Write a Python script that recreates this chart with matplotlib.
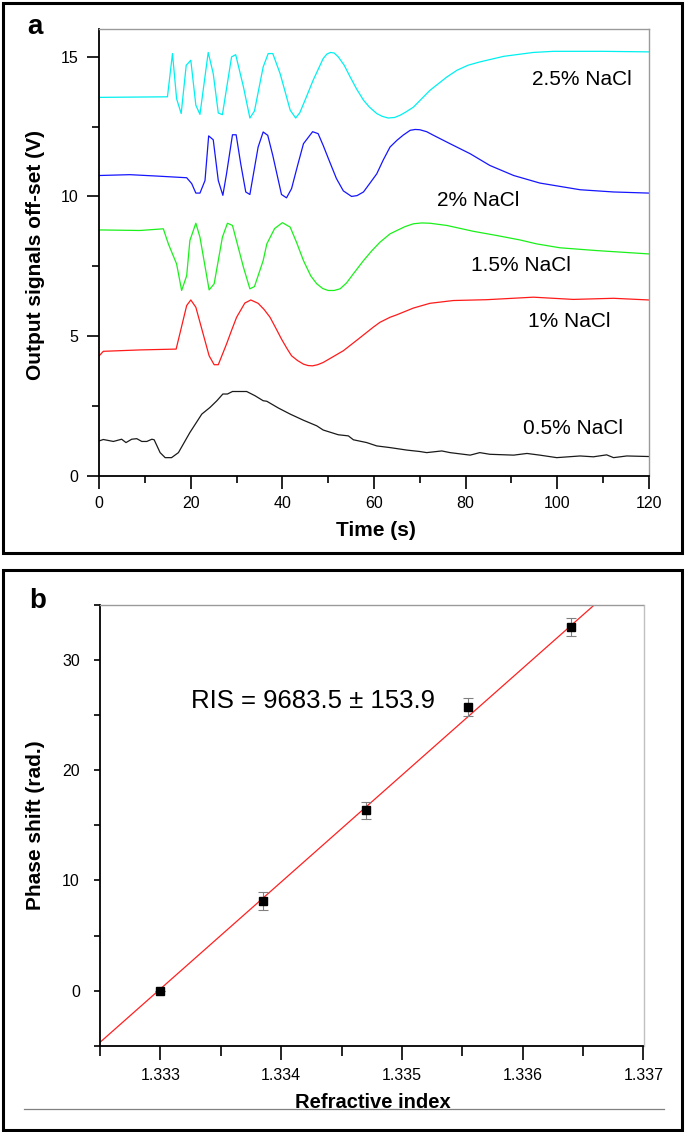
import matplotlib
matplotlib.use("Agg")
import matplotlib.pyplot as plt
import numpy as np
from matplotlib.ticker import MultipleLocator, FixedLocator
from matplotlib.patches import Rectangle
from matplotlib.lines import Line2D

plt.rcParams['font.family'] = ['Liberation Sans', 'DejaVu Sans']

# ---------------- Panel a data ----------------
cyan_t = [0, 14.9, 16.0, 16.9, 17.9, 19.0, 20.0, 21.1, 22.0, 23.8,
          24.9, 26.0, 26.9, 28.9, 29.8, 31.5, 32.9, 33.9, 35.8, 36.9,
          37.9, 39.5, 40.6, 41.7, 42.9, 43.8, 45.2, 46.7, 48.9, 49.7,
          50.5, 51.3, 52.2, 53.5, 54.8, 56.2, 57.7, 59.0, 60.6, 61.8,
          63.1, 64.5, 65.7, 67.0, 68.6, 70.4, 72.2, 75.9, 78.1, 80.5,
          83.1, 88.3, 94.8, 99.2, 110, 120]
cyan_v = [13.55, 13.57, 15.12, 13.5, 12.97, 14.70, 14.88, 13.27, 12.94, 15.16,
          14.40, 12.99, 12.93, 15.0, 15.08, 13.92, 12.81, 13.06, 14.64, 15.12,
          15.12, 14.40, 13.75, 13.09, 12.81, 13.0, 13.55, 14.16, 14.94, 15.1,
          15.16, 15.14, 15.0, 14.7, 14.28, 13.85, 13.45, 13.2, 12.97, 12.87,
          12.81, 12.83, 12.91, 13.03, 13.2, 13.5, 13.80, 14.28, 14.52, 14.70,
          14.82, 15.02, 15.16, 15.2, 15.2, 15.18]

blue_t = [0, 6.7, 12.6, 19.1, 20.2, 21.1, 22.0, 23.1, 23.9, 24.9,
          26.0, 27.0, 27.8, 29.1, 29.9, 30.9, 32.0, 32.9, 34.7, 35.8,
          36.8, 37.9, 39.8, 40.9, 42.0, 43.3, 44.6, 46.6, 47.8, 48.9,
          50.3, 51.8, 53.3, 55.1, 56.3, 57.7, 59.0, 60.6, 62.0, 63.5,
          65.0, 66.4, 67.9, 69.0, 70.0, 71.5, 73.0, 76.6, 81.0, 85.3,
          90.5, 96.2, 105.0, 112.3, 120]
blue_v = [10.75, 10.78, 10.73, 10.67, 10.46, 10.12, 10.12, 10.57, 12.17, 12.03,
          10.57, 10.04, 10.81, 12.21, 12.21, 11.17, 10.16, 10.07, 11.77, 12.31,
          12.19, 11.47, 10.07, 9.95, 10.28, 11.1, 11.89, 12.32, 12.25, 11.83,
          11.25, 10.64, 10.2, 10.0, 10.03, 10.16, 10.45, 10.81, 11.3, 11.77,
          12.01, 12.2, 12.37, 12.4, 12.39, 12.32, 12.19, 11.89, 11.53, 11.11,
          10.75, 10.48, 10.24, 10.16, 10.12]

green_t = [0, 8.9, 14.0, 15.1, 16.9, 18.0, 19.1, 19.8, 21.1, 22.0,
           24.0, 25.1, 26.9, 28.0, 29.1, 31.5, 32.9, 33.9, 35.8, 36.6,
           38.3, 40.0, 41.7, 43.1, 44.6, 46.2, 47.5, 48.8, 50.0, 51.3,
           52.6, 54.0, 55.5, 57.7, 59.5, 61.3, 63.5, 65.0, 66.8, 68.6,
           70.4, 72.2, 75.9, 81.7, 86.8, 91.9, 95.5, 100.6, 108.6, 120]
green_v = [8.80, 8.78, 8.84, 8.30, 7.58, 6.63, 7.16, 8.42, 9.04, 8.54,
           6.65, 6.87, 8.54, 9.04, 8.96, 7.46, 6.69, 6.77, 7.70, 8.30,
           8.85, 9.06, 8.90, 8.35, 7.70, 7.15, 6.87, 6.70, 6.63, 6.63,
           6.69, 6.9, 7.23, 7.70, 8.05, 8.36, 8.66, 8.78, 8.92, 9.02,
           9.05, 9.04, 8.96, 8.75, 8.60, 8.44, 8.30, 8.16, 8.06, 7.94]

red_t = [0, 0.9, 8.9, 16.8, 19.1, 20.0, 21.1, 22.7, 24.0, 25.1,
         26.0, 27.8, 28.9, 30.0, 31.8, 33.1, 34.7, 36.0, 37.3, 38.5,
         39.8, 41.0, 42.0, 43.3, 44.6, 45.6, 46.6, 47.7, 48.9, 51.0,
         53.3, 56.5, 59.8, 61.3, 63.5, 65.0, 68.6, 72.2, 77.3, 84.6,
         94.8, 103.5, 112.3, 120]
red_v = [4.29, 4.45, 4.50, 4.53, 6.09, 6.29, 6.03, 5.07, 4.29, 3.97,
         3.97, 4.71, 5.2, 5.67, 6.18, 6.29, 6.17, 5.95, 5.67, 5.3,
         4.89, 4.55, 4.29, 4.12, 3.99, 3.94, 3.93, 3.97, 4.05, 4.25,
         4.47, 4.88, 5.31, 5.49, 5.67, 5.76, 6.0, 6.17, 6.27, 6.30,
         6.39, 6.31, 6.35, 6.29]

black_t = [0, 0.9, 3.1, 4.9, 5.85, 7.1, 8.2, 9.3, 10.4, 11.5,
           12.0, 13.3, 14.4, 15.8, 17.3, 19.8, 22.4, 24.2, 25.7, 27.0,
           28.0, 29.1, 32.2, 34.0, 35.8, 36.6, 39.1, 41.7, 44.6, 47.5,
           48.9, 52.2, 54.4, 55.5, 58.4, 60.6, 63.5, 67.2, 70.0, 71.5,
           74.8, 76.6, 81.0, 83.1, 85.3, 90.5, 93.4, 96.2, 99.9, 105.0,
           107.9, 110.8, 112.3, 115.2, 120]
black_v = [1.24, 1.29, 1.22, 1.30, 1.18, 1.30, 1.32, 1.22, 1.22, 1.30,
           1.28, 0.82, 0.64, 0.64, 0.82, 1.54, 2.20, 2.44, 2.68, 2.92,
           2.92, 3.01, 3.01, 2.86, 2.68, 2.66, 2.42, 2.20, 1.98, 1.78,
           1.63, 1.46, 1.42, 1.28, 1.18, 1.06, 1.0, 0.91, 0.86, 0.82,
           0.88, 0.82, 0.73, 0.82, 0.76, 0.73, 0.79, 0.73, 0.64, 0.70,
           0.67, 0.74, 0.64, 0.70, 0.68]

curve_labels = ["2.5% NaCl", "2% NaCl", "1.5% NaCl", "1% NaCl", "0.5% NaCl"]
label_x = [94.4, 73.8, 81.1, 93.6, 92.5]
label_y = [14.19, 9.84, 7.52, 5.51, 1.69]

a_xticks = [0, 20, 40, 60, 80, 100, 120]
a_yticks = [0, 5, 10, 15]

# ---------------- Panel b data ----------------
ri = [1.333, 1.33385, 1.3347, 1.33555, 1.3364]
phase = [0.0, 8.16, 16.35, 25.7, 32.97]
phase_err = [0.0, 0.8, 0.78, 0.8, 0.8]
RIS = 9683.5
RIS_err = 153.9
b_xticks = [1.333, 1.334, 1.335, 1.336, 1.337]
b_xticklabels = ["1.333", "1.334", "1.335", "1.336", "1.337"]
b_yticks = [0, 10, 20, 30]

W, H = 685, 1132
fig = plt.figure(figsize=(W / 100, H / 100), dpi=100)


def fx(px):
    return px / W


def fy(py):
    return 1 - py / H


# ---------- panel a ----------
axa = fig.add_axes([fx(99.2), fy(475.5), fx(648.8) - fx(99.2), fy(29) - fy(475.5)])
series = [(cyan_t, cyan_v, '#00F0F0'), (blue_t, blue_v, '#1515FF'),
          (green_t, green_v, '#1AF01A'), (red_t, red_v, '#FF1A1A'),
          (black_t, black_v, '#1a1a1a')]
for t, v, c in series:
    axa.plot(t, v, color=c, lw=0.9)
for s, x, y in zip(curve_labels, label_x, label_y):
    axa.text(x, y, s, fontsize=15, ha='left', va='center', color='black')

axa.set_xlim(0, 120)
axa.set_ylim(0, 16)
axa.set_xticks(a_xticks)
axa.set_yticks(a_yticks)
axa.xaxis.set_minor_locator(MultipleLocator(10))
axa.yaxis.set_minor_locator(MultipleLocator(2.5))
axa.tick_params(which='major', length=9, width=1.2, direction='out', labelsize=11.5, pad=6,
                top=False, right=False)
axa.tick_params(which='minor', length=5, width=1.2, direction='out', top=False, right=False)
for side in ['left', 'bottom']:
    axa.spines[side].set_linewidth(1.3)
    axa.spines[side].set_color('black')
for side in ['top', 'right']:
    axa.spines[side].set_linewidth(1.0)
    axa.spines[side].set_color('#9a9a9a')

fig.text(fx(36), fy(255), "Output signals off-set (V)", rotation=90, fontsize=15,
         fontweight='bold', ha='center', va='center')
fig.text(fx(376), fy(531), "Time (s)", fontsize=15, fontweight='bold', ha='center', va='center')
fig.text(fx(27), fy(34), "a", fontsize=20, fontweight='bold', ha='left', va='baseline')

# ---------- panel b ----------
axb = fig.add_axes([fx(100), fy(1046), fx(643.5) - fx(100), fy(604.5) - fy(1046)])
xlo, xhi = 1.3325, 1.337
fit_intercept = np.mean(phase) - RIS * np.mean(ri)
xl = np.array([xlo, xhi])
axb.plot(xl, RIS * xl + fit_intercept, color='#FF2020', lw=0.9, zorder=2)
axb.errorbar(ri, phase, yerr=phase_err, fmt='s', color='black', ms=6,
             ecolor='#808080', elinewidth=0.8, capsize=3.5, capthick=0.8, zorder=3)
axb.text(1.33325, 26.23, "RIS = %.1f \u00b1 %.1f" % (RIS, RIS_err), fontsize=18.5,
         ha='left', va='center')

axb.set_xlim(xlo, xhi)
axb.set_ylim(-5, 35)
axb.xaxis.set_major_locator(FixedLocator(b_xticks))
axb.set_xticklabels(b_xticklabels)
axb.xaxis.set_minor_locator(FixedLocator([1.3325, 1.3335, 1.3345, 1.3355, 1.3365]))
axb.set_yticks(b_yticks)
axb.yaxis.set_minor_locator(FixedLocator([-5, 5, 15, 25, 35]))
axb.tick_params(axis='x', which='major', length=10, width=1.2, direction='out',
                labelsize=11.5, pad=6, top=False)
axb.tick_params(axis='x', which='minor', length=7, width=1.2, direction='out', top=False)
axb.tick_params(axis='y', which='major', length=4.5, width=1.2, direction='out',
                labelsize=11.5, pad=10, right=False)
axb.tick_params(axis='y', which='minor', length=4.5, width=1.2, direction='out', right=False)
for side in ['left', 'bottom']:
    axb.spines[side].set_linewidth(1.3)
    axb.spines[side].set_color('black')
axb.spines['top'].set_linewidth(1.0)
axb.spines['top'].set_color('#9a9a9a')
axb.spines['right'].set_linewidth(1.0)
axb.spines['right'].set_color('#c0c0c0')

fig.text(fx(36), fy(825), "Phase shift (rad.)", rotation=90, fontsize=15,
         fontweight='bold', ha='center', va='center')
fig.text(fx(373), fy(1102), "Refractive index", fontsize=14.5, fontweight='bold',
         ha='center', va='center')
fig.text(fx(29), fy(608), "b", fontsize=20, fontweight='bold', ha='left', va='baseline')

# grey separator line in panel b
fig.add_artist(Line2D([fx(24), fx(664)], [fy(1109), fy(1109)], color='#808080', lw=0.9,
                      transform=fig.transFigure))

# panel frames
fig.add_artist(Rectangle((fx(2.5), fy(552.5)), fx(682.5) - fx(2.5), fy(2.5) - fy(552.5),
                         transform=fig.transFigure, fill=False, ec='black', lw=2.2))
fig.add_artist(Rectangle((fx(2.5), fy(1129.5)), fx(682.5) - fx(2.5), fy(569.5) - fy(1129.5),
                         transform=fig.transFigure, fill=False, ec='black', lw=2.2))

fig.savefig("out.png", dpi=100)
